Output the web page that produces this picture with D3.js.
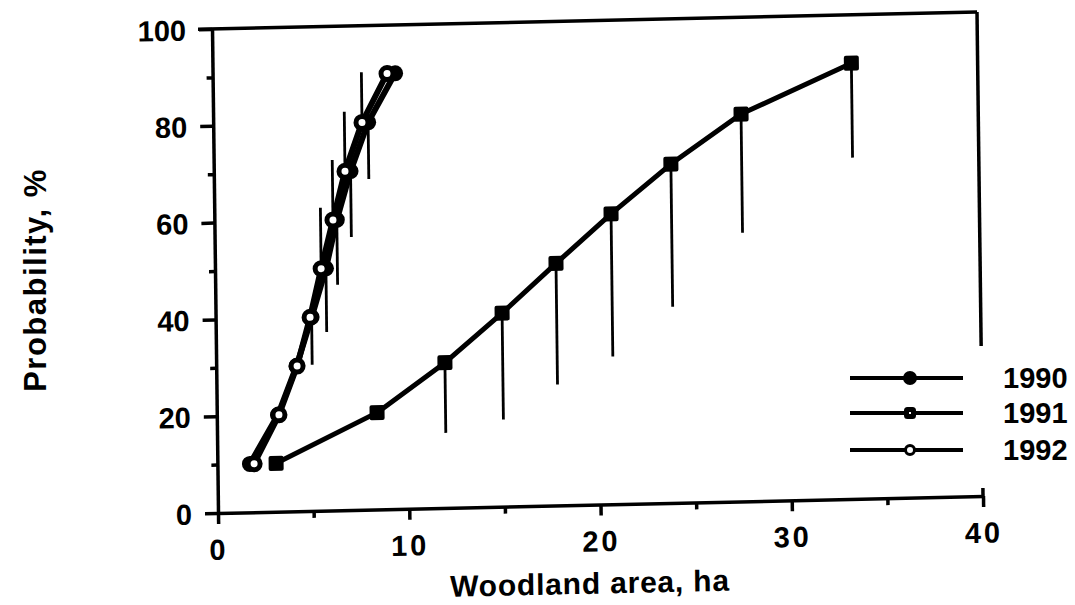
<!DOCTYPE html>
<html>
<head>
<meta charset="utf-8">
<script src="https://cdn.jsdelivr.net/npm/d3@7"></script>
<style>
  html, body { margin: 0; padding: 0; background: #fff; }
  svg { display: block; }
  text { font-family: "Liberation Sans", Arial, Helvetica, sans-serif; font-weight: bold; fill: #000; }
</style>
</head>
<body>
<svg id="chart" width="1075" height="605"></svg>
<script>
// ---- data ----
const probabilities = [10, 20, 30, 40, 50, 60, 70, 80, 90];
const area1990 = [1.70, 3.20, 4.20, 5.02, 5.80, 6.40, 7.15, 8.10, 9.54];
const area1991 = [3.07, 8.38, 11.96, 14.98, 17.83, 20.74, 23.90, 27.60, 33.40];
const area1992 = [1.92, 3.25, 4.23, 4.94, 5.55, 6.20, 6.86, 7.78, 9.12];
const lower1990 = [null, null, null, 30.2, 36.9, 46.6, 56.4, 68.3, null];
const lower1991 = [null, null, 15.5, 18, 25, 30.5, 40.5, 55.5, 70.5];
const upper1992 = [null, null, null, null, 62.6, 72.4, 82.3, 90.4, null];
const xTicks = [0, 10, 20, 30, 40];
const xMinorTicks = [5, 15, 25, 35];
const yTicks = [0, 20, 40, 60, 80, 100];
const yMinorTicks = [10, 30, 50, 70, 90];
const legendYears = ["1990", "1991", "1992"];
const xTitle = "Woodland area, ha";
const yTitle = "Probability,  %";

// ---- layout ----
const svg = d3.select("#chart");
const W = 765, H = 484;
const x = d3.scaleLinear().domain([0, 40]).range([0, W]);
const y = d3.scaleLinear().domain([0, 100]).range([0, -H]);

// scanned figure is slightly skewed: reproduce with a matrix on the plot group
const g = svg.append("g").attr("transform", "matrix(1,-0.0222,0.0124,1,218,513)");

// frame (top and partial right border)
g.append("line").attr("x1", -14).attr("x2", x(40)).attr("y1", y(100)).attr("y2", y(100))
  .attr("stroke", "#000").attr("stroke-width", 3.5);
g.append("line").attr("x1", x(40)).attr("x2", x(40)).attr("y1", y(100)).attr("y2", y(31))
  .attr("stroke", "#000").attr("stroke-width", 3.5);

// y axis
const yAxis = g.append("g").call(d3.axisLeft(y).tickValues(yTicks).tickSize(13).tickSizeOuter(0).tickPadding(13));
const yMinor = g.append("g").call(d3.axisLeft(y).tickValues(yMinorTicks).tickSize(6).tickFormat(""));
yMinor.select(".domain").remove();
// x axis
const xAxis = g.append("g").call(d3.axisBottom(x).tickValues(xTicks).tickSize(11).tickSizeOuter(0).tickPadding(15));
const xMinor = g.append("g").call(d3.axisBottom(x).tickValues(xMinorTicks).tickSize(7).tickFormat(""));
xMinor.select(".domain").remove();

[yAxis, xAxis, yMinor, xMinor].forEach(a => {
  a.selectAll("path,line").attr("stroke", "#000").attr("stroke-width", 3.5);
});
yAxis.selectAll("text").style("font-size", "29px").attr("dy", "0.36em");
xAxis.selectAll("text").style("font-size", "29px").attr("letter-spacing", "3px").attr("dy", "0.72em");
// extra tick at x=40 going upward
g.append("line").attr("x1", x(40)).attr("x2", x(40)).attr("y1", 0).attr("y2", -8)
  .attr("stroke", "#000").attr("stroke-width", 3.5);

// axis titles
g.append("text").attr("x", x(19.4)).attr("y", 89).attr("text-anchor", "middle")
  .style("font-size", "30px").attr("letter-spacing", "0.8px").text(xTitle);
svg.append("text").attr("transform", "translate(46,280) rotate(-90)").attr("text-anchor", "middle")
  .style("font-size", "31px").attr("letter-spacing", "1.5px").text(yTitle);

// ---- series ----
const line = d3.line().x(d => x(d[0])).y(d => y(d[1]));
const s1990 = area1990.map((a, i) => [a, probabilities[i]]);
const s1991 = area1991.map((a, i) => [a, probabilities[i]]);
const s1992 = area1992.map((a, i) => [a, probabilities[i]]);

function errBars(areas, bounds) {
  g.append("g").selectAll("line").data(areas.map((a, i) => ({a, p: probabilities[i], b: bounds[i]})).filter(d => d.b != null))
    .join("line")
    .attr("x1", d => x(d.a)).attr("x2", d => x(d.a))
    .attr("y1", d => y(d.p)).attr("y2", d => y(d.b))
    .attr("stroke", "#000").attr("stroke-width", 2.8);
}
errBars(area1991, lower1991);
errBars(area1990, lower1990);
errBars(area1992, upper1992);

[[s1991, 5], [s1990, 6], [s1992, 6]].forEach(([s, w]) => {
  g.append("path").datum(s).attr("d", line).attr("fill", "none")
    .attr("stroke", "#000").attr("stroke-width", w).attr("stroke-linejoin", "round");
});

// markers
g.append("g").selectAll("rect").data(s1991).join("rect")
  .attr("x", d => x(d[0]) - 7.5).attr("y", d => y(d[1]) - 7.5)
  .attr("width", 15).attr("height", 15).attr("rx", 2)
  .attr("fill", "#000");
g.append("g").selectAll("circle").data(s1990).join("circle")
  .attr("cx", d => x(d[0])).attr("cy", d => y(d[1])).attr("r", 8).attr("fill", "#000");
g.append("g").selectAll("circle").data(s1992).join("circle")
  .attr("cx", d => x(d[0])).attr("cy", d => y(d[1])).attr("r", 6)
  .attr("fill", "#fff").attr("stroke", "#000").attr("stroke-width", 5);

// ---- legend ----
const legY = [378, 413, 450];
const leg = svg.append("g");
legendYears.forEach((yr, i) => {
  const ly = legY[i];
  leg.append("line").attr("x1", 850).attr("x2", 963).attr("y1", ly).attr("y2", ly)
    .attr("stroke", "#000").attr("stroke-width", 4);
  if (i === 0) {
    leg.append("circle").attr("cx", 910).attr("cy", ly).attr("r", 7).attr("fill", "#000");
  } else if (i === 1) {
    leg.append("rect").attr("x", 906.5).attr("y", ly - 3.5).attr("width", 7).attr("height", 7).attr("rx", 1)
      .attr("fill", "#fff").attr("stroke", "#000").attr("stroke-width", 5);
  } else {
    leg.append("circle").attr("cx", 910).attr("cy", ly).attr("r", 4.5)
      .attr("fill", "#fff").attr("stroke", "#000").attr("stroke-width", 3);
  }
  leg.append("text").attr("x", 1003).attr("y", ly + 10).style("font-size", "29px").text(yr);
});
</script>
</body>
</html>
